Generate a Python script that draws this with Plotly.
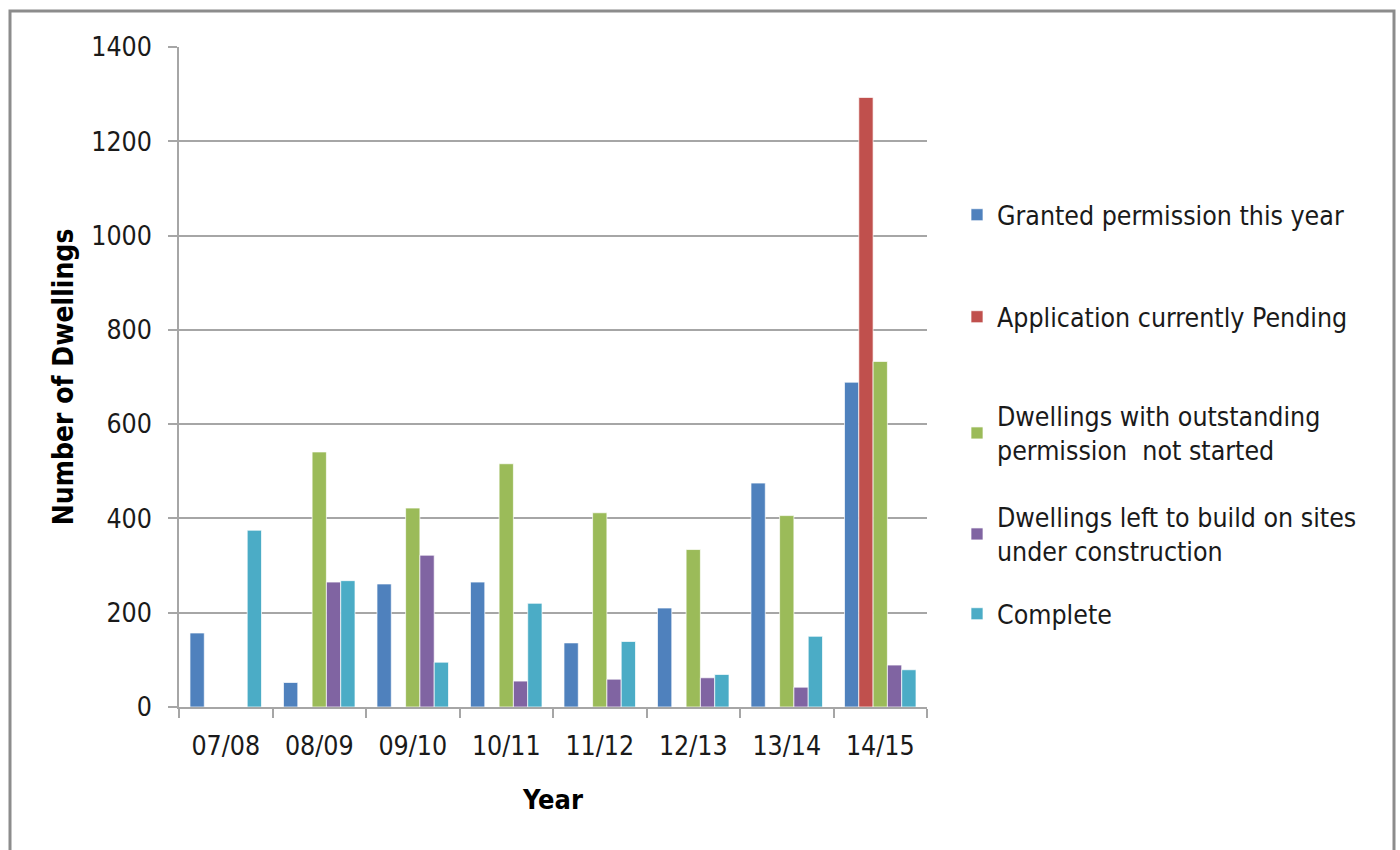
import plotly.graph_objects as go

years = ["07/08", "08/09", "09/10", "10/11", "11/12", "12/13", "13/14", "14/15"]
granted = [157, 52, 261, 265, 136, 210, 475, 689]
pending = [None, None, None, None, None, None, None, 1293]
outstanding = [None, 541, 422, 516, 412, 334, 406, 733]
left_to_build = [None, 265, 322, 55, 59, 62, 42, 89]
complete = [375, 268, 95, 220, 139, 69, 150, 79]

series_names = [
    "Granted permission this year",
    "Application currently Pending",
    "Dwellings with outstanding<br>permission  not started",
    "Dwellings left to build on sites<br>under construction",
    "Complete",
]
series_values = [granted, pending, outstanding, left_to_build, complete]
colors = ["#4F81BD", "#C0504D", "#9BBB59", "#8064A2", "#4BACC6"]
y_ticks = [0, 200, 400, 600, 800, 1000, 1200, 1400]

FONT = "DejaVu Sans Condensed, DejaVu Sans, sans-serif"
FS = 26.5

# plot area in pixels
L, R, T, B = 179, 927, 47, 707
W, H = 1400, 850
pw, ph = R - L, B - T

def px_x(p):
    return (p - L) / pw

def px_y(p):
    return (B - p) / ph

legend_centers = [215, 317, 433, 534, 614]

fig = go.Figure()
for i, (name, vals, col) in enumerate(zip(series_names, series_values, colors)):
    lg = "legend" if i == 0 else f"legend{i+1}"
    fig.add_trace(go.Bar(
        x=years, y=vals, name=name,
        marker=dict(color=col, line=dict(color="rgba(255,255,255,0.7)", width=1)),
        legend=lg,
    ))

legend_common = dict(
    font=dict(family=FONT, size=FS, color="#1a1a1a"),
    bgcolor="rgba(0,0,0,0)",
    xanchor="left", yanchor="middle",
    itemclick=False, itemdoubleclick=False,
)
lay = {}
for i, c in enumerate(legend_centers):
    key = "legend" if i == 0 else f"legend{i+1}"
    lay[key] = dict(legend_common, x=px_x(957), y=px_y(c))

fig.update_layout(
    width=W, height=H,
    margin=dict(l=L, r=W - R, t=T, b=H - B, pad=0, autoexpand=False),
    paper_bgcolor="white", plot_bgcolor="white",
    barmode="group", bargap=0.235, bargroupgap=0,
    font=dict(family=FONT, size=FS, color="#1a1a1a"),
    showlegend=True,
    **lay,
)

fig.update_yaxes(
    range=[0, 1400], tickvals=y_ticks,
    showgrid=True, gridcolor="#A6A6A6", gridwidth=1.5,
    showline=True, linecolor="#A6A6A6", linewidth=1.5,
    ticks="outside", ticklen=9, tickcolor="#A6A6A6", tickwidth=1.5,
    ticklabelstandoff=11,
    tickfont=dict(family=FONT, size=FS, color="#1a1a1a"),
    zeroline=False,
    title=dict(text="<b>Number of Dwellings</b>", font=dict(family=FONT, size=28, color="#000"), standoff=9),
)
fig.update_xaxes(
    showgrid=False,
    showline=True, linecolor="#A6A6A6", linewidth=1.5,
    ticks="outside", ticklen=9, tickcolor="#A6A6A6", tickwidth=1.5,
    tickson="boundaries",
    ticklabelstandoff=14,
    tickfont=dict(family=FONT, size=FS, color="#1a1a1a"),
    title=dict(text="<b>Year</b>", font=dict(family=FONT, size=27, color="#000"), standoff=31),
)

# outer frame of the chart object
fig.add_shape(type="rect", xref="paper", yref="paper",
              x0=px_x(10), x1=px_x(1394), y0=px_y(11), y1=px_y(860),
              line=dict(color="#8C8C8C", width=3), fillcolor="rgba(0,0,0,0)", layer="below")

fig.write_html("out.html")
